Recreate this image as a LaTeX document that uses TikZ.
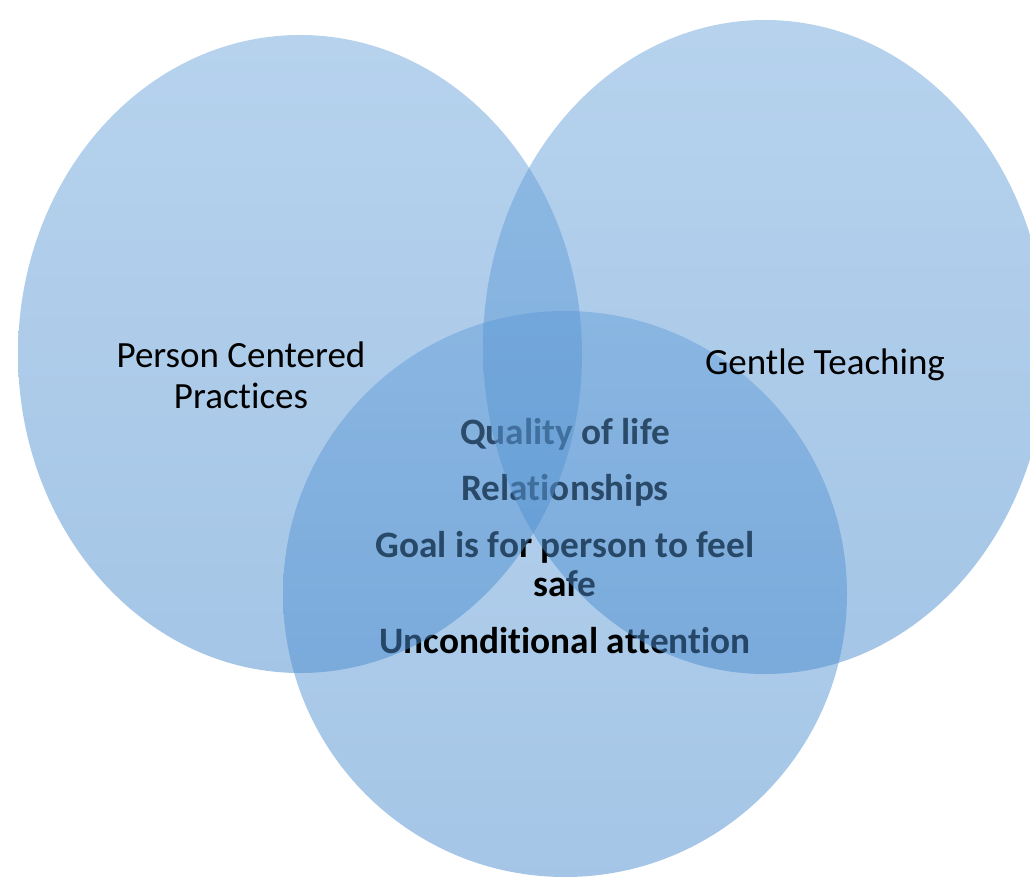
\documentclass[tikz,border=0pt]{standalone}
\usepackage{fontspec}
\setmainfont{Carlito}[Ligatures={NoCommon,NoContextual}]
\definecolor{venntop}{RGB}{110,166,220}
\definecolor{vennbot}{RGB}{74,140,206}

\begin{document}
\begin{tikzpicture}[x=1pt, y=-1pt,
    circ/.style={top color=venntop, bottom color=vennbot, fill opacity=0.5},
    side/.style={font=\fontsize{37}{41}\selectfont, anchor=base, text=black},
    core/.style={font=\fontsize{37.3}{39}\selectfont\bfseries, anchor=base, text=black}]
  \clip (0,0) rectangle (1030,877);
  % bottom circle and its text sit under the other two
  \path[circ] (565,594) ellipse [x radius=282, y radius=283];
  \node[core] (qol) at (565,444) {Quality of life};
  \node[core] (rel) at (565,500) {Relationships};
  \node[core] (goal) at (565,557) {Goal is for person to feel};
  \node[core] (safe) at (565,596) {safe};
  \node[core] (attn) at (565,653) {Unconditional attention};
  % left circle
  \path[circ] (300,354) ellipse [x radius=282, y radius=319];
  \node[side] (pcp) at (241,367) {Person Centered};
  \node[side] (prac) at (241,408) {Practices};
  % right circle
  \path[circ] (765,347) ellipse [x radius=282, y radius=327];
  \node[side] (gt) at (825,374) {Gentle Teaching};
\end{tikzpicture}
\end{document}
